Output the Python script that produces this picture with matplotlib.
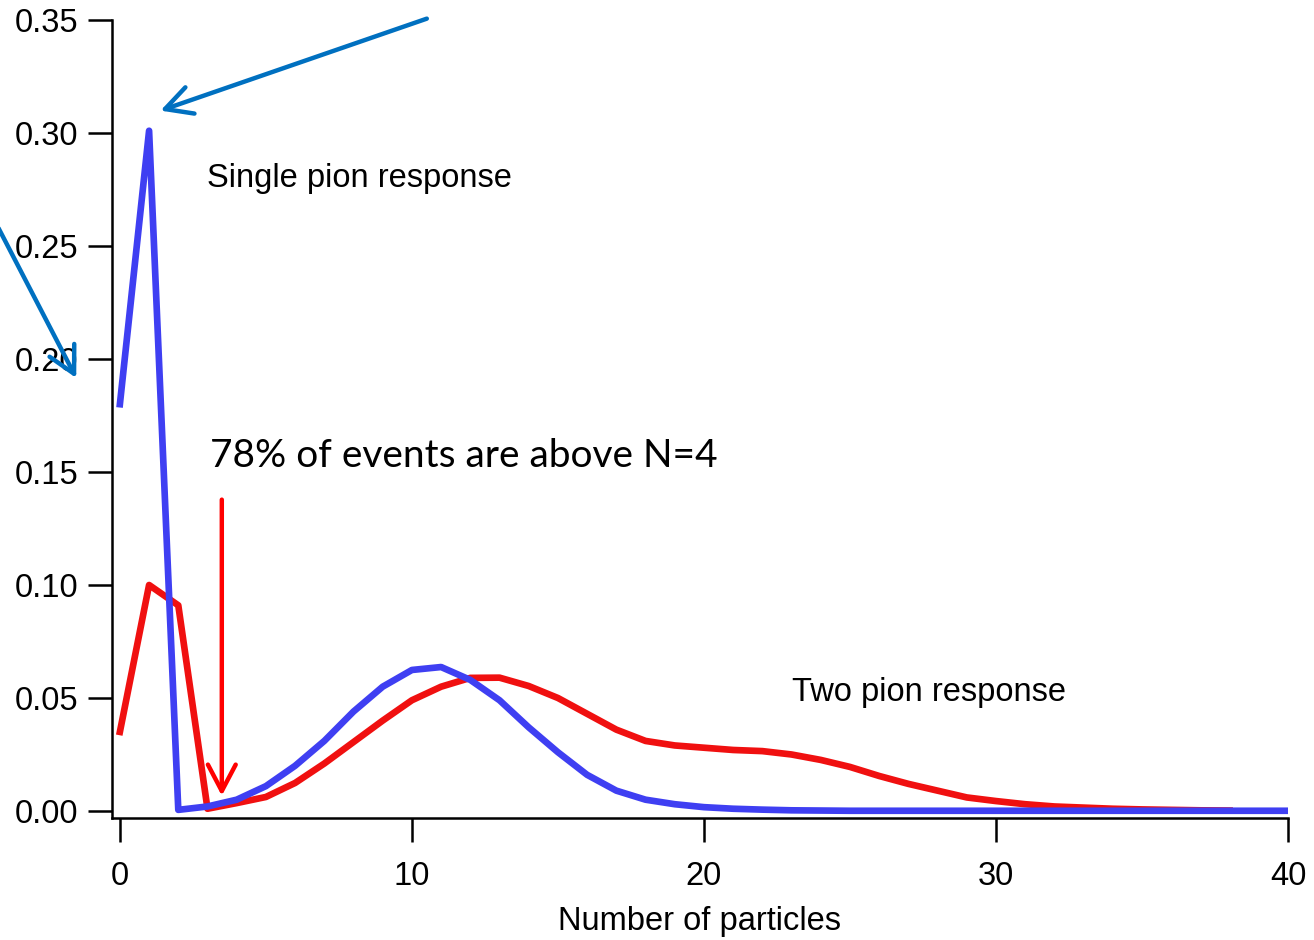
import numpy as np
import matplotlib
matplotlib.use("Agg")
import matplotlib.pyplot as plt

# number of particles
n_blue = list(range(0, 41))
n_red = list(range(0, 39))

# single pion response (blue)
single_pion = [0.180, 0.301, 0.0005, 0.002, 0.005, 0.011, 0.020, 0.031, 0.044, 0.055,
               0.0624, 0.0637, 0.058, 0.049, 0.037, 0.026, 0.016, 0.009, 0.005, 0.003,
               0.0017, 0.001, 0.0006, 0.0003, 0.0002, 0.0001, 0.0001, 0.0001, 0.0001, 0.0001,
               0.0001, 0.0001, 0.0001, 0.0001, 0.0001, 0.0001, 0.0001, 0.0001, 0.0001, 0.0001,
               0.0001]

# two pion response (red)
two_pion = [0.035, 0.100, 0.091, 0.001, 0.0035, 0.0062, 0.0124, 0.021, 0.0305, 0.040,
            0.049, 0.055, 0.0589, 0.059, 0.0553, 0.050, 0.043, 0.036, 0.031, 0.029,
            0.028, 0.027, 0.0265, 0.025, 0.0226, 0.0195, 0.0155, 0.012, 0.009, 0.006,
            0.0044, 0.003, 0.002, 0.0015, 0.001, 0.0007, 0.0005, 0.0003, 0.0002]

x_ticks = [0, 10, 20, 30, 40]
y_ticks = [0.00, 0.05, 0.10, 0.15, 0.20, 0.25, 0.30, 0.35]

plt.rcParams['font.family'] = ['Liberation Sans', 'DejaVu Sans']

fig = plt.figure(figsize=(13.14, 9.4), dpi=100)
ax = fig.add_axes([112/1314, 1 - 818/940, (1288 - 112)/1314, (818 - 20)/940])

ax.plot(n_red, two_pion, color='#f01010', lw=4.8, solid_joinstyle='round')
ax.plot(n_blue, single_pion, color='#3f3ff2', lw=4.8, solid_joinstyle='round')

ax.set_xlim(-0.27, 40)
ax.set_ylim(-0.0031, 0.35)
ax.set_xticks(x_ticks)
ax.set_yticks(y_ticks)
ax.set_yticklabels(["%.2f" % v for v in y_ticks])
ax.tick_params(axis='both', direction='out', length=17, width=1.8, labelsize=23.5, color='black')
ax.tick_params(axis='y', pad=7)
ax.tick_params(axis='x', pad=14)
for s in ['top', 'right']:
    ax.spines[s].set_visible(False)
for s in ['left', 'bottom']:
    ax.spines[s].set_linewidth(1.8)

ax.set_xlabel("Number of particles", fontsize=23.5, labelpad=10)

ax.text(3.0, 0.280, "Single pion response", fontsize=23.5, va='center')
ax.text(23.0, 0.0525, "Two pion response", fontsize=23.5, va='center')
ax.text(3.1, 0.157, "78% of events are above N=4", fontsize=28, va='center',
        family=['Lato', 'DejaVu Sans'])

# arrows
style = '->,head_length=1.9,head_width=1.0'
ax.annotate("", xy=(3.49, 0.0055), xytext=(3.49, 0.139), annotation_clip=False,
            arrowprops=dict(arrowstyle=style, color='#ff0000', lw=3.2))
ax.annotate("", xy=(1.3, 0.3095), xytext=(10.6, 0.351), annotation_clip=False,
            arrowprops=dict(arrowstyle=style, color='#0070c0', lw=3.2))
ax.annotate("", xy=(-1.45, 0.1905), xytext=(-4.2, 0.259), annotation_clip=False,
            arrowprops=dict(arrowstyle=style, color='#0070c0', lw=3.2))

fig.savefig("out.png", dpi=100)
